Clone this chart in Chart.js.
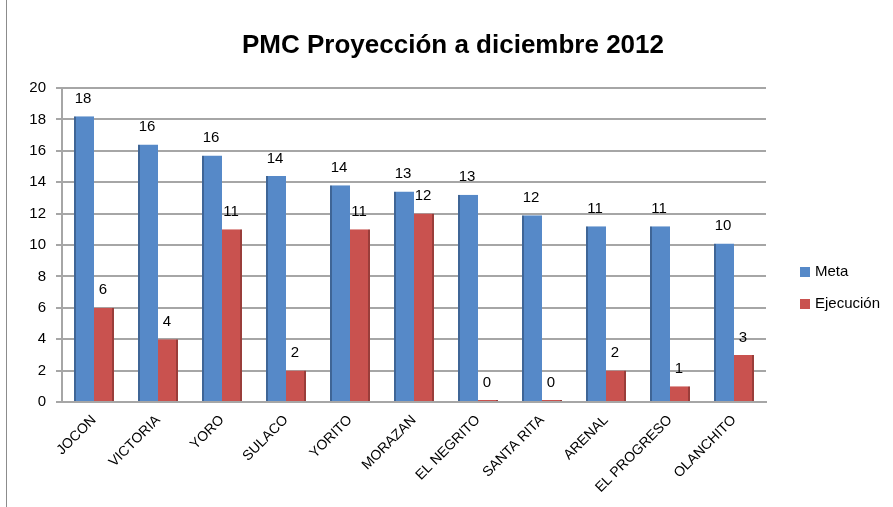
<!DOCTYPE html>
<html>
<head>
<meta charset="utf-8">
<script src="https://cdn.jsdelivr.net/npm/chart.js@4"></script>
<style>
  body { margin: 0; background: #fff; }
  #wrap { width: 893px; height: 507px; position: relative; }
</style>
</head>
<body>
<div id="wrap"><canvas id="chart" width="893" height="507"></canvas></div>
<script>
// datos
const municipios = ['JOCON', 'VICTORIA', 'YORO', 'SULACO', 'YORITO', 'MORAZAN', 'EL NEGRITO', 'SANTA RITA', 'ARENAL', 'EL PROGRESO', 'OLANCHITO'];
const meta = [18.2, 16.4, 15.7, 14.4, 13.8, 13.4, 13.2, 11.9, 11.2, 11.2, 10.1];
const ejecucion = [6, 4, 11, 2, 11, 12, 0, 0, 2, 1, 3];
const metaEtiquetas = [18, 16, 16, 14, 14, 13, 13, 12, 11, 11, 10];
const ejecucionEtiquetas = [6, 4, 11, 2, 11, 12, 0, 0, 2, 1, 3];
const yTicks = [0, 2, 4, 6, 8, 10, 12, 14, 16, 18, 20];
const titulo = 'PMC Proyección a diciembre 2012';

const fuente = "'Liberation Sans', Arial, sans-serif";

// etiquetas encima de cada barra
const etiquetasPlugin = {
    id: 'etiquetas',
    afterDatasetsDraw(chart) {
        const ctx = chart.ctx;
        const textos = [metaEtiquetas, ejecucionEtiquetas];
        ctx.save();
        ctx.font = '15px ' + fuente;
        ctx.fillStyle = '#000';
        ctx.textAlign = 'center';
        ctx.textBaseline = 'bottom';
        chart.data.datasets.forEach((ds, i) => {
            const m = chart.getDatasetMeta(i);
            m.data.forEach((bar, j) => {
                ctx.fillText(textos[i][j], bar.x - 1, bar.y - 10);
            });
        });
        ctx.restore();
    }
};

// titulo, leyenda a la derecha y borde izquierdo
const leyendaPlugin = {
    id: 'leyenda',
    afterDraw(chart) {
        const ctx = chart.ctx;
        ctx.save();
        ctx.strokeStyle = '#8c8c8c';
        ctx.lineWidth = 1;
        ctx.beginPath();
        ctx.moveTo(6.5, 0);
        ctx.lineTo(6.5, 507);
        ctx.stroke();

        ctx.fillStyle = '#000';
        ctx.font = 'bold 26px ' + fuente;
        ctx.textAlign = 'center';
        ctx.textBaseline = 'middle';
        ctx.fillText(titulo, 453, 46);

        ctx.font = '15px ' + fuente;
        ctx.textAlign = 'left';
        chart.data.datasets.forEach((ds, i) => {
            const y = 272 + i * 32;
            ctx.fillStyle = ds.backgroundColor;
            ctx.fillRect(800, y - 5, 10, 10);
            ctx.fillStyle = '#000';
            ctx.fillText(ds.label, 815, y);
        });
        ctx.restore();
    }
};

new Chart(document.getElementById('chart'), {
    type: 'bar',
    data: {
        labels: municipios,
        datasets: [
            { label: 'Meta', data: meta, backgroundColor: '#5689c8', borderColor: '#3f6596', borderWidth: { left: 2 }, borderSkipped: 'bottom' },
            { label: 'Ejecución', data: ejecucion, backgroundColor: '#c9524f', borderColor: '#9a3d3a', borderWidth: { right: 2 }, borderSkipped: 'bottom', minBarLength: 2 }
        ]
    },
    options: {
        responsive: false,
        animation: false,
        layout: { padding: { left: 0, right: 127, top: 88, bottom: 0 } },
        categoryPercentage: 0.625,
        barPercentage: 1,
        plugins: {
            legend: { display: false },
            tooltip: { enabled: false },
            title: { display: false }
        },
        scales: {
            x: {
                grid: { display: false },
                border: { color: '#a6a6a6', width: 2 },
                ticks: {
                    color: '#000',
                    font: { family: fuente, size: 14 },
                    minRotation: 45,
                    maxRotation: 45,
                    padding: 2
                },
                afterFit: s => { s.height = 105; }
            },
            y: {
                min: 0,
                max: 20,
                afterBuildTicks: s => { s.ticks = yTicks.map(v => ({ value: v })); },
                grid: { color: '#a6a6a6', lineWidth: 2, tickLength: 6 },
                border: { color: '#a6a6a6', width: 2 },
                ticks: {
                    color: '#000',
                    font: { family: fuente, size: 15 },
                    padding: 10
                },
                afterFit: s => { s.width = 62; }
            }
        }
    },
    plugins: [etiquetasPlugin, leyendaPlugin]
});
</script>
</body>
</html>
